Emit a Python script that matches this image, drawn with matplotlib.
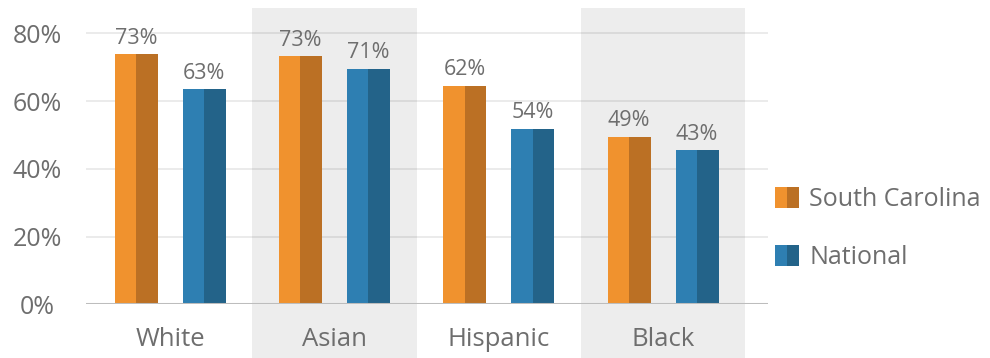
import matplotlib
matplotlib.use("Agg")
import matplotlib.pyplot as plt
from matplotlib.legend_handler import HandlerTuple
from matplotlib.patches import Patch
import numpy as np

categories = ["White", "Asian", "Hispanic", "Black"]
series = ["South Carolina", "National"]
# bar heights as drawn in the picture, labels as printed above the bars
sc_values = [73.8, 73.2, 64.5, 49.5]
nat_values = [63.5, 69.6, 51.8, 45.5]
sc_labels = ["73%", "73%", "62%", "49%"]
nat_labels = ["63%", "71%", "54%", "43%"]
yticks = [0, 20, 40, 60, 80]

plt.rcParams["font.family"] = ["Open Sans", "DejaVu Sans"]
grey_txt = "#6e6e6e"
sc_cols = ("#F0922E", "#BB7024")
nat_cols = ("#2E7FB2", "#236389")

fig = plt.figure(figsize=(9.9, 3.58), dpi=100)
ax = fig.add_axes([0.0869, 0.150, 0.776 - 0.0869, 0.978 - 0.150])

x = np.arange(len(categories))
half = 0.131
off = 0.207

# shaded bands behind every other category
for i in range(len(categories)):
    if i % 2 == 1:
        ax.axvspan(i - 0.5, i + 0.5, ymin=-0.2, ymax=1, color="#EDEDED",
                   zorder=0, clip_on=False, lw=0)

for vals, labels, cols, sign in [(sc_values, sc_labels, sc_cols, -1),
                                 (nat_values, nat_labels, nat_cols, 1)]:
    centers = x + sign * off
    ax.bar(centers - half, vals, width=half, align="edge", color=cols[0], zorder=3, lw=0)
    ax.bar(centers, vals, width=half, align="edge", color=cols[1], zorder=3, lw=0)
    for c, v, lab in zip(centers, vals, labels):
        ax.annotate(lab, (c, v), xytext=(0, 4), textcoords="offset points",
                    ha="center", va="bottom", fontsize=15.5, color=grey_txt)

ax.set_xlim(-0.512, 3.64)
ax.set_ylim(0, 87.5)

ax.set_yticks(yticks)
ax.set_yticklabels([f"{t}%" for t in yticks])
for lbl in ax.get_yticklabels():
    lbl.set_ha("center")
ax.tick_params(axis="y", length=0, pad=35, labelsize=18, labelcolor=grey_txt)
ax.set_xticks(x)
ax.set_xticklabels(categories)
ax.tick_params(axis="x", length=0, pad=16, labelsize=18.5, labelcolor=grey_txt)

ax.yaxis.grid(True, color="black", alpha=0.08, lw=1.4, zorder=1)
ax.set_axisbelow(True)
ax.axhline(0, color="#BDBDBD", lw=2.2, zorder=4)
for s in ax.spines.values():
    s.set_visible(False)
ax.patch.set_alpha(0)

handles = [(Patch(color=sc_cols[0], lw=0), Patch(color=sc_cols[1], lw=0)),
           (Patch(color=nat_cols[0], lw=0), Patch(color=nat_cols[1], lw=0))]
fig.legend(handles, series, handler_map={tuple: HandlerTuple(ndivide=None, pad=0)},
           loc="center left", bbox_to_anchor=(0.770, 0.362), frameon=False,
           fontsize=18, labelcolor=grey_txt, handlelength=0.95, handleheight=0.95,
           handletextpad=0.42, labelspacing=1.3, borderpad=0)

fig.savefig("out.png", dpi=100)
